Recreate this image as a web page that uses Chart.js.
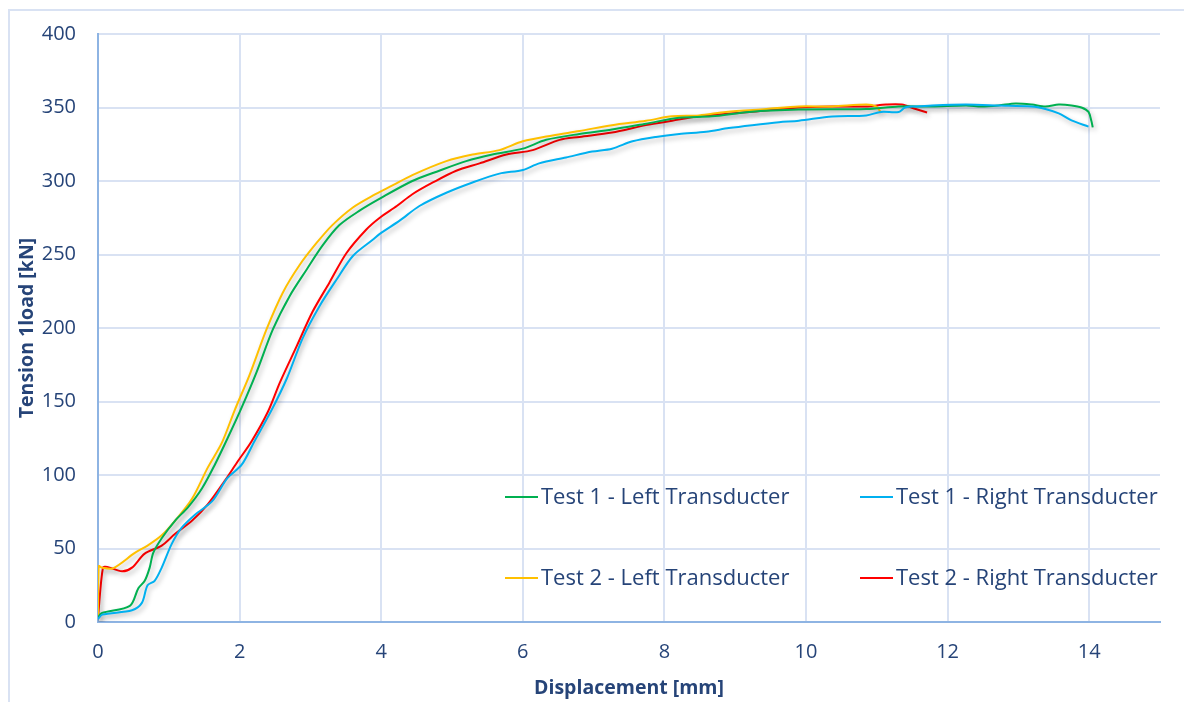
<!DOCTYPE html>
<html>
<head>
<meta charset="utf-8">
<script src="https://cdn.jsdelivr.net/npm/chart.js@4"></script>
<style>
    body { margin: 0; background: #ffffff; }
    #wrap { width: 1184px; height: 702px; }
</style>
</head>
<body>
<div id="wrap"><canvas id="tensionChart" width="1184" height="702"></canvas></div>
<script>
// values (displacement in mm, load in kN)
const test1LeftX = [0, 0.05, 0.45, 0.57, 0.66, 0.73, 0.78, 0.9, 1.09, 1.27, 1.47, 1.65, 1.83, 2.03, 2.24, 2.47, 2.71, 2.95, 3.17, 3.41, 3.7, 3.98, 4.44, 4.82, 5.2, 5.57, 6.0, 6.33, 6.8, 7.26, 7.74, 8.21, 8.67, 9.2, 9.9, 10.85, 11.31, 11.78, 12.26, 12.48, 12.72, 12.96, 13.19, 13.38, 13.57, 13.75, 13.89, 13.99, 14.03, 14.05];
const test1LeftY = [3, 6, 11, 23, 28, 37, 47, 57, 69, 78, 91, 107, 125, 146, 170, 199, 222, 240, 256, 270, 280, 288, 300, 307, 313.5, 318, 322, 328, 332, 335, 339, 343, 344, 347, 348.6, 349, 350.7, 350.7, 351.4, 350.7, 351.4, 352.7, 352, 350.7, 352, 351.4, 350, 347, 341, 336.5];

const test1RightX = [0, 0.06, 0.48, 0.62, 0.7, 0.8, 0.9, 1.04, 1.18, 1.37, 1.61, 1.83, 2.03, 2.21, 2.45, 2.67, 2.89, 3.13, 3.37, 3.6, 3.88, 3.98, 4.26, 4.54, 4.92, 5.29, 5.67, 6.0, 6.23, 6.61, 6.98, 7.26, 7.55, 7.88, 8.21, 8.59, 8.91, 9.24, 9.62, 9.9, 10.37, 10.85, 11.06, 11.31, 11.4, 11.55, 11.78, 12.26, 12.72, 13.19, 13.38, 13.57, 13.75, 13.99];
const test1RightY = [2, 5, 8, 13, 25, 28, 37, 53, 64, 73, 82, 98, 107, 123, 144, 166, 193, 215, 233, 249, 260, 264, 273, 283, 292, 299, 305, 307.5, 312, 316, 320, 322, 327, 330, 332, 333.5, 336, 338, 340, 341, 343.9, 344.6, 347, 347, 350, 350.7, 351.4, 352, 351.4, 350.7, 349, 346, 341.2, 337];

const test2LeftX = [0, 0.01, 0.05, 0.21, 0.52, 0.7, 0.9, 1.09, 1.33, 1.55, 1.75, 1.93, 2.14, 2.38, 2.61, 2.85, 3.09, 3.31, 3.6, 3.88, 4.16, 4.44, 4.92, 5.29, 5.67, 6.0, 6.42, 6.8, 7.26, 7.74, 8.11, 8.49, 8.87, 9.44, 9.9, 10.37, 10.85, 10.99, 11.06];
const test2LeftY = [2, 38, 37, 36.5, 47, 52, 59, 69, 84, 105, 122, 144, 168, 199, 224, 243, 258, 270, 282, 290, 297, 304, 313.5, 318, 321, 327, 331, 334, 338, 341, 344, 344.6, 347, 349, 350.7, 350.7, 352, 350.7, 346.6];

const test2RightX = [0, 0.07, 0.13, 0.34, 0.48, 0.66, 0.9, 1.09, 1.33, 1.55, 1.79, 1.97, 2.17, 2.4, 2.57, 2.81, 3.03, 3.27, 3.51, 3.79, 3.98, 4.22, 4.44, 4.73, 5.06, 5.39, 5.77, 6.14, 6.52, 6.8, 7.26, 7.74, 8.11, 8.49, 9.2, 9.9, 10.37, 10.85, 11.13, 11.35, 11.55, 11.71];
const test2RightY = [3, 37, 37.5, 34.5, 37, 46.5, 52, 60, 69, 80, 96, 109, 123, 143, 163, 188, 211, 231, 251, 267, 275, 283, 291, 299, 307, 312, 318, 321, 328, 330, 333, 338, 341, 344, 347, 350, 350.7, 350.7, 352, 352, 349, 346.6];

const seriesNames = ['Test 1 - Left Transducter', 'Test 1 - Right Transducter', 'Test 2 - Left Transducter', 'Test 2 - Right Transducter'];
const seriesColors = ['#00b050', '#00b0f0', '#ffc000', '#ff0000'];

const textColor = '#264478';
const gridColor = '#d9e2f3';
const axisColor = '#8eb4e3';

function toPoints(xs, ys) {
    return xs.map((x, i) => ({ x: x, y: ys[i] }));
}

const allX = [test1LeftX, test1RightX, test2LeftX, test2RightX];
const allY = [test1LeftY, test1RightY, test2LeftY, test2RightY];

// draw order: blue under, then green, yellow, red on top
const drawOrder = [1, 0, 2, 3];
const datasets = drawOrder.map(i => ({
    label: seriesNames[i],
    data: toPoints(allX[i], allY[i]),
    borderColor: seriesColors[i],
    backgroundColor: seriesColors[i],
    borderWidth: 2,
    pointRadius: 0,
    tension: 0.3,
    fill: false
}));

const frameBorder = {
    id: 'frameBorder',
    beforeDraw(chart) {
        const ctx = chart.ctx;
        ctx.save();
        ctx.strokeStyle = gridColor;
        ctx.lineWidth = 2;
        ctx.strokeRect(9, 10, 1200, 720);
        ctx.restore();
    }
};

const lineShadow = {
    id: 'lineShadow',
    beforeDatasetsDraw(chart) {
        const ctx = chart.ctx;
        ctx.save();
        ctx.shadowColor = 'rgba(0, 0, 0, 0.28)';
        ctx.shadowBlur = 5;
        ctx.shadowOffsetX = 2;
        ctx.shadowOffsetY = 3;
    },
    afterDatasetsDraw(chart) {
        chart.ctx.restore();
    }
};

// legend sits inside the plot, two by two
const insideLegend = {
    id: 'insideLegend',
    afterDraw(chart) {
        const ctx = chart.ctx;
        const area = chart.chartArea;
        const cols = [area.left + 407, area.left + 762];
        const rows = [area.bottom - 125, area.bottom - 44];
        ctx.save();
        ctx.font = '22px "Open Sans"';
        ctx.textBaseline = 'middle';
        ctx.fillStyle = textColor;
        for (let i = 0; i < 4; i++) {
            const x = cols[i % 2];
            const y = rows[Math.floor(i / 2)];
            ctx.strokeStyle = seriesColors[i];
            ctx.lineWidth = 2;
            ctx.beginPath();
            ctx.moveTo(x, y);
            ctx.lineTo(x + 33, y);
            ctx.stroke();
            ctx.fillText(seriesNames[i], x + 36, y + 1);
        }
        ctx.restore();
    }
};

const chart = new Chart(document.getElementById('tensionChart'), {
    type: 'line',
    data: { datasets: datasets },
    options: {
        responsive: false,
        animation: false,
        layout: { padding: { left: 0, right: 24, top: 30, bottom: 0 } },
        plugins: {
            legend: { display: false },
            tooltip: { enabled: false }
        },
        scales: {
            x: {
                type: 'linear',
                min: 0,
                max: 15,
                afterFit: s => { s.height = 80; },
                grid: { color: gridColor, lineWidth: 2, drawTicks: false },
                border: { color: axisColor, width: 2 },
                ticks: {
                    stepSize: 2,
                    includeBounds: false,
                    padding: 18,
                    color: textColor,
                    font: { family: 'Open Sans', size: 20 }
                },
                title: {
                    display: true,
                    text: 'Displacement [mm]',
                    color: textColor,
                    font: { family: 'Open Sans', size: 19.5, weight: 'bold' },
                    padding: { top: 0, bottom: 2 }
                }
            },
            y: {
                min: 0,
                max: 400,
                afterFit: s => { s.width = 98; },
                grid: { color: gridColor, lineWidth: 2, drawTicks: false },
                border: { color: axisColor, width: 2 },
                ticks: {
                    stepSize: 50,
                    padding: 22,
                    color: textColor,
                    font: { family: 'Open Sans', size: 20 }
                },
                title: {
                    display: true,
                    text: 'Tension 1load [kN]',
                    color: textColor,
                    font: { family: 'Open Sans', size: 19.5, weight: 'bold' },
                    padding: { top: 16, bottom: 0 }
                }
            }
        }
    },
    plugins: [frameBorder, lineShadow, insideLegend]
});
</script>
</body>
</html>
